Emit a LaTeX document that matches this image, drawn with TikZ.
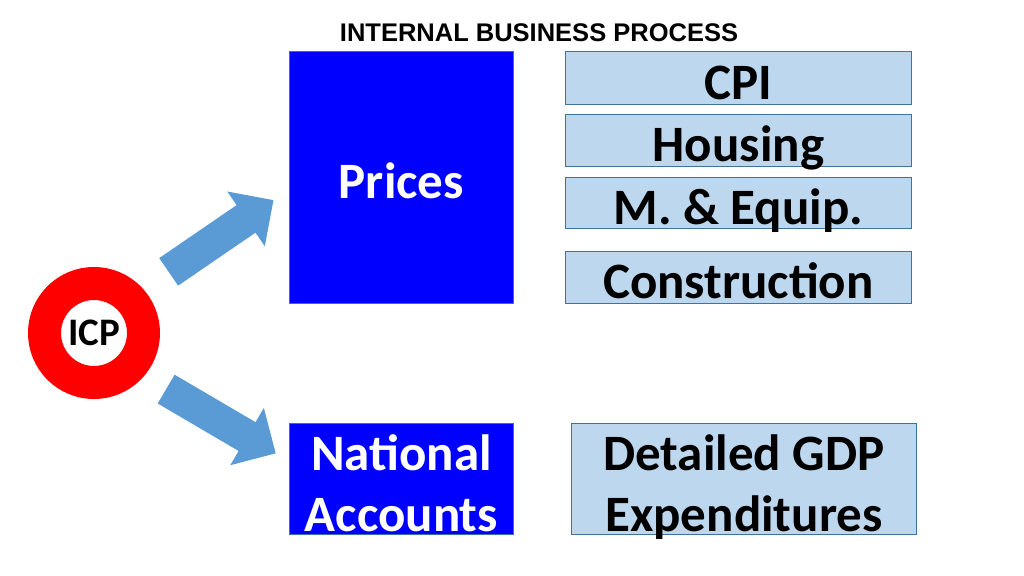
\documentclass[tikz,border=0pt]{standalone}
\usepackage{fontspec}
\usepackage{xcolor}
\usetikzlibrary{shapes.arrows}
\setmainfont{Carlito}
\newfontfamily\titlefont{Liberation Sans}

\definecolor{pureblue}{RGB}{0,0,255}
\definecolor{paleblue}{RGB}{189,215,238}
\definecolor{edgeblue}{RGB}{65,113,156}
\definecolor{arrowblue}{RGB}{91,155,213}

\tikzset{
  boxtext/.style={inner sep=0pt, anchor=north west, align=center, line width=0.8pt,
    font=\bfseries\fontsize{51}{61}\selectfont, text depth=0pt},
  oneline/.style={text height=43pt},
  twolines/.style={text height=105pt},
  bigbox/.style={boxtext, draw=edgeblue, fill=pureblue, text=white},
  smallbox/.style={boxtext, draw=edgeblue, fill=paleblue, text=black},
  blockarrow/.style={single arrow, fill=arrowblue, inner xsep=0pt, inner ysep=16.5pt,
    single arrow head extend=16.5pt, minimum height=127pt, anchor=tail}
}

\begin{document}
\begin{tikzpicture}[x=1pt,y=-1pt]
        \useasboundingbox (0,0) rectangle (1024,575);

        % Titulo
        \node (title) at (539,33) {\titlefont\bfseries\fontsize{25.5}{30}\selectfont INTERNAL BUSINESS PROCESS};

        % Anillo ICP
        \node[circle, draw=red, line width=33pt, fill=white, minimum size=99pt, inner sep=0pt,
          font=\bfseries\fontsize{39}{39}\selectfont] (icp) at (94,333) {ICP};

        % Flechas de bloque
        \node[blockarrow, rotate=34.4] (arrPrices) at (168.5,272) {};
        \node[blockarrow, rotate=-30.4] (arrAccounts) at (166,389) {};

        % Cajas principales
        \node[bigbox, oneline, minimum width=224pt, minimum height=252pt] (prices) at (289,51) {Prices};
        \node[bigbox, twolines, minimum width=224pt, minimum height=111pt] (accounts) at (289,423) {National\\Accounts};

        % Cajas de detalle
        \node[smallbox, oneline, minimum width=346pt, minimum height=53pt] (cpi) at (565,51) {CPI};
        \node[smallbox, oneline, minimum width=346pt, minimum height=52pt] (housing) at (565,114) {Housing};
        \node[smallbox, oneline, minimum width=346pt, minimum height=51pt] (equip) at (565,177) {M. \& Equip.};
        \node[smallbox, oneline, minimum width=346pt, minimum height=52pt] (construction) at (565,251) {Construction};
        \node[smallbox, twolines, minimum width=345pt, minimum height=111pt] (gdp) at (571,423) {Detailed GDP\\Expenditures};
    \end{tikzpicture}
\end{document}
